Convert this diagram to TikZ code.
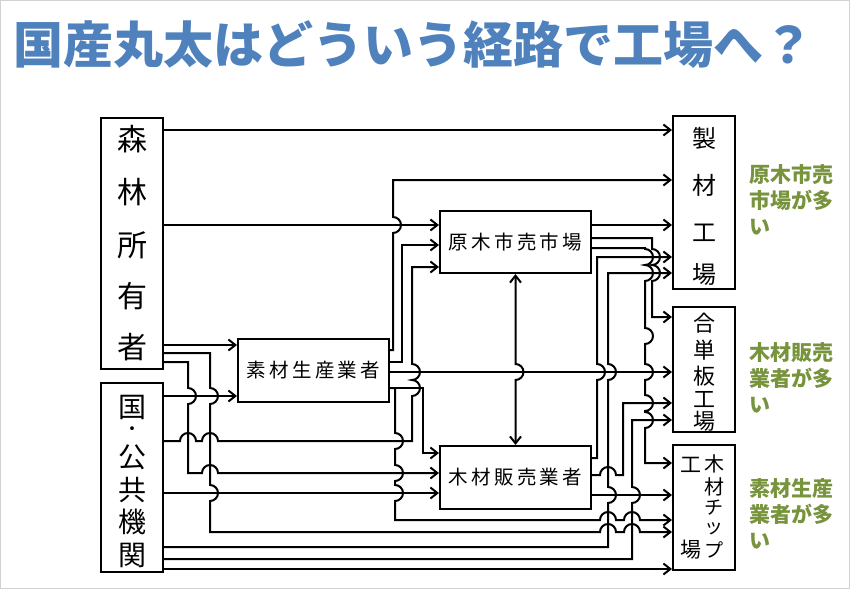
\documentclass[tikz,border=0pt]{standalone}
\usepackage{fontspec}
\newfontfamily\jp{Noto Sans CJK JP}
\usetikzlibrary{arrows.meta}
\definecolor{titleblue}{RGB}{79,129,189}
\definecolor{notegreen}{RGB}{119,147,60}
\def\hoprad{8}
% hop over a vertical line, bump over a horizontal one
\newcommand\hopover[2]{-- ({#1-\hoprad},#2) arc[start angle=180,end angle=0,radius=\hoprad pt]}
\newcommand\bumpup[2]{-- (#1,{#2+\hoprad}) arc[start angle=-90,end angle=90,radius=\hoprad pt]}
\newcommand\bumpdown[2]{-- (#1,{#2-\hoprad}) arc[start angle=90,end angle=-90,radius=\hoprad pt]}

\begin{document}
\begin{tikzpicture}[x=1pt, y=-1pt, line width=2pt, >={Straight Barb[length=7pt,width=11pt]},
  box/.style={draw, line width=2pt, inner sep=0pt},
  tate/.style={font=\jp\fontsize{#1}{#1}\selectfont, inner sep=0pt},
  yoko/.style={font=\jp\fontsize{19.5}{24}\selectfont},
  note/.style={font=\jp\bfseries\fontsize{21}{26}\selectfont, text=notegreen, align=left,
    anchor=north west, inner sep=0pt}]
\useasboundingbox (0,0) rectangle (850,589);
\draw[gray!35, line width=1pt] (0.5,0.5) rectangle (849.5,588.5);

\node[font=\jp\bfseries\fontsize{50}{50}\selectfont, text=titleblue, anchor=west, inner sep=0pt]
  (title) at (12,45) {国産丸太はどういう経路で工場へ？};

% boxes
\node[box, minimum width=62pt, minimum height=251pt] (sr) at (132,243.5) {};
\node[box, minimum width=62pt, minimum height=189pt] (kk) at (132,477.5) {};
\node[box, minimum width=151pt, minimum height=63pt, yoko] (ss) at (313.5,370.5) {素\,材\,生\,産\,業\,者};
\node[box, minimum width=151pt, minimum height=62pt, yoko] (gm) at (515.5,242) {原\,木\,市\,売\,市\,場};
\node[box, minimum width=151pt, minimum height=63pt, yoko] (mh) at (515.5,477.5) {木\,材\,販\,売\,業\,者};
\node[box, minimum width=62pt, minimum height=173pt] (sz) at (704,202.5) {};
\node[box, minimum width=62pt, minimum height=125pt] (gt) at (704,369.5) {};
\node[box, minimum width=62pt, minimum height=125pt] (mc) at (704,507.5) {};

\foreach \c/\y [count=\i] in {森/139,林/192,所/245,有/296,者/347}
  \node[tate=30] (sr-\i) at (132,\y) {\c};
\foreach \c/\y [count=\i] in {国/407,公/457,共/490,機/522,関/555}
  \node[tate=28] (kk-\i) at (132,\y) {\c};
\node[tate=18] (kk-dot) at (132,431) {・};
\foreach \c/\y [count=\i] in {製/138,材/185,工/233,場/275}
  \node[tate=24] (sz-\i) at (704,\y) {\c};
\foreach \c/\y [count=\i] in {合/323,単/350,板/376,工/400,場/421}
  \node[tate=22] (gt-\i) at (704,\y) {\c};
\foreach \c/\y [count=\i] in {木/464,材/487}
  \node[tate=20] (mc-\i) at (714,\y) {\c};
\foreach \c/\y [count=\i from 3] in {チ/508,ッ/529,プ/550}
  \node[tate=19] (mc-\i) at (714,\y) {\c};
\node[tate=21] (mc-6) at (691,465) {工};
\node[tate=21] (mc-7) at (691,550) {場};

\node[note] (note1) at (748,163) {原木市売\\市場が多\\い};
\node[note] (note2) at (748,342) {木材販売\\業者が多\\い};
\node[note] (note3) at (748,478) {素材生産\\業者が多\\い};

% 森林所有者
\draw[->] (sr.east |- 0,130) -- (sz.west |- 0,130);
\draw[->] (sr.east |- 0,225) -- (gm.west |- 0,225);
\draw[->] (sr.east |- 0,345) -- (ss.west |- 0,345);
\draw[->] (sr.east |- 0,353) -- (210,353) \bumpdown{210}{396} \bumpdown{210}{493} -- (210,532)
  \hopover{608}{532} \hopover{632}{532} -- (mc.west |- 0,532);
\draw[->] (sr.east |- 0,362) -- (188,362) \bumpdown{188}{396} -- (188,473) \hopover{210}{473} -- (mh.west |- 0,473);

% 国・公共機関
\draw[->] (kk.east |- 0,396) -- (ss.west |- 0,396);
\draw[->] (kk.east |- 0,441) \hopover{188}{441} \hopover{210}{441} -- (412,441) \bumpup{412}{388} \bumpup{412}{372}
  -- (412,267) -- (gm.west |- 0,267);
\draw[->] (kk.east |- 0,493) -- (mh.west |- 0,493);
\draw[->] (kk.east |- 0,547) -- (608,547) \bumpup{608}{495} \bumpup{608}{372} -- (608,273) -- (sz.west |- 0,273);
\draw[->] (kk.east |- 0,559) -- (632,559) \bumpup{632}{495} -- (632,420) -- (gt.west |- 0,420);
\draw[->] (kk.east |- 0,569) -- (mc.west |- 0,569);

% 素材生産業者
\draw[->] (ss.east |- 0,350) -- (393,350) \bumpup{393}{225} -- (393,180) -- (sz.west |- 0,180);
\draw[->] (ss.east |- 0,362) -- (402,362) -- (402,245) -- (gm.west |- 0,245);
\draw[->] (ss.east |- 0,372) -- (gt.west |- 0,372);
\draw[->] (ss.east |- 0,388) -- (423,388) -- (423,453) -- (mh.west |- 0,453);
\draw[->] (ss.east |- 0,388) -- (395,388) \bumpdown{395}{441} \bumpdown{395}{473} \bumpdown{395}{493} -- (395,520)
  \hopover{608}{520} \hopover{632}{520} -- (mc.west |- 0,520);

% 原木市売市場
\draw[<->] (gm.south) \bumpdown{515.5}{372} -- (mh.north);
\draw[->] (gm.east |- 0,225) -- (sz.west |- 0,225);
\draw[->] (gm.east |- 0,238) -- (652,238) \bumpdown{652}{257} \bumpdown{652}{273} -- (652,317) -- (gt.west |- 0,317);
\draw[->] (gm.east |- 0,248) -- (645,248) \bumpdown{645}{257} \bumpdown{645}{273} \bumpdown{645}{336}
  \bumpdown{645}{372} \bumpdown{645}{403} \bumpdown{645}{420} -- (645,463) -- (mc.west |- 0,463);

% 木材販売業者
\draw[->] (mh.east |- 0,458) -- (597,458) \bumpup{597}{372} -- (597,257) -- (sz.west |- 0,257);
\draw[->] (mh.east |- 0,475) \hopover{608}{475} -- (623,475) -- (623,403) -- (gt.west |- 0,403);
\draw[->] (mh.east |- 0,495) -- (mc.west |- 0,495);
\end{tikzpicture}
\end{document}
